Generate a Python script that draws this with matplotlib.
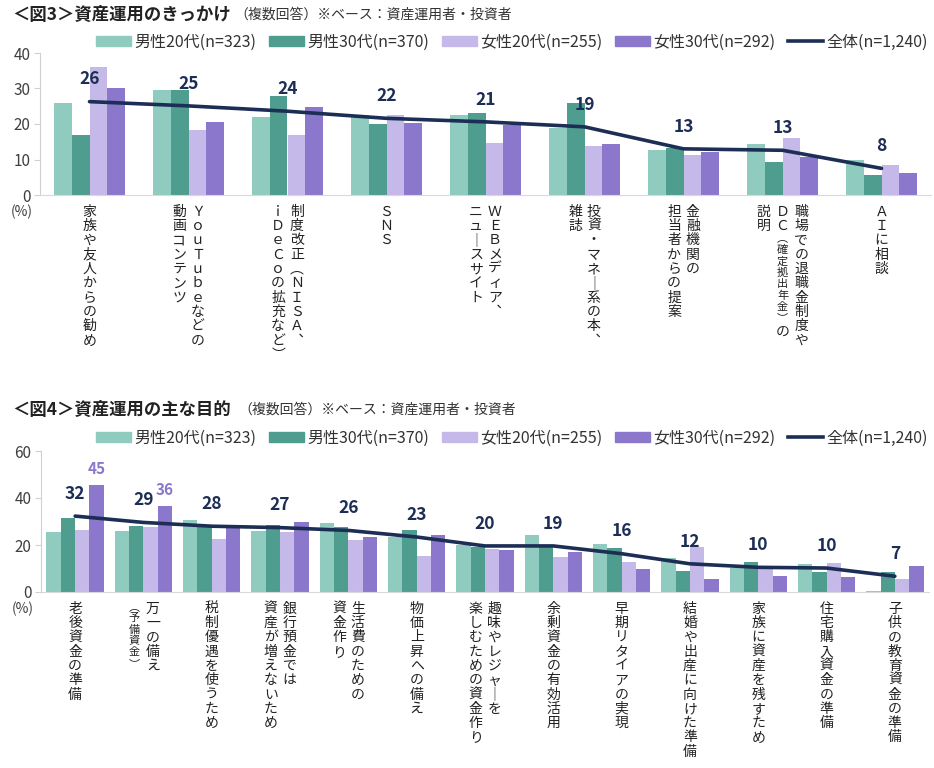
import matplotlib
matplotlib.use("Agg")
import matplotlib.pyplot as plt
from matplotlib.lines import Line2D
from matplotlib.patches import Patch
import numpy as np

plt.rcParams['font.family'] = ['Noto Sans CJK JP', 'DejaVu Sans']

# ---- data: 図3 資産運用のきっかけ ----
cats3 = ["家族や友人からの勧め",
         "ＹｏｕＴｕｂｅなどの|動画コンテンツ",
         "制度改正（ＮＩＳＡ、|ｉＤｅＣｏの拡充など）",
         "ＳＮＳ",
         "ＷＥＢメディア、|ニュースサイト",
         "投資・マネー系の本、|雑誌",
         "金融機関の|担当者からの提案",
         "職場での退職金制度や|ＤＣ{（確定拠出年金）}の|説明",
         "ＡＩに相談"]
m20_3 = [25.9, 29.7, 22.1, 22.6, 22.5, 18.8, 12.8, 14.4, 10.0]
m30_3 = [16.8, 29.5, 27.8, 20.0, 23.0, 26.0, 13.1, 9.4, 5.6]
f20_3 = [36.0, 18.2, 16.8, 22.5, 14.7, 13.9, 11.3, 16.0, 8.5]
f30_3 = [30.0, 20.7, 24.9, 20.2, 19.7, 14.3, 12.2, 10.8, 6.3]
all_3 = [26.3, 25.1, 23.6, 21.6, 20.6, 19.2, 13.0, 12.6, 7.5]
lab_3 = [26, 25, 24, 22, 21, 19, 13, 13, 8]

# ---- data: 図4 資産運用の主な目的 ----
cats4 = ["老後資金の準備",
         "万一の備え|{（予備資金）}",
         "税制優遇を使うため",
         "銀行預金では|資産が増えないため",
         "生活費のための|資金作り",
         "物価上昇への備え",
         "趣味やレジャーを|楽しむための資金作り",
         "余剰資金の有効活用",
         "早期リタイアの実現",
         "結婚や出産に向けた準備",
         "家族に資産を残すため",
         "住宅購入資金の準備",
         "子供の教育資金の準備"]
m20_4 = [25.5, 25.8, 30.5, 25.8, 29.4, 23.4, 20.2, 24.1, 20.6, 14.6, 10.4, 12.1, 0.6]
m30_4 = [31.5, 28.1, 27.9, 28.4, 27.7, 26.2, 19.1, 19.1, 18.9, 8.8, 12.9, 8.4, 8.4]
f20_4 = [26.2, 27.7, 22.7, 25.5, 22.1, 15.5, 18.4, 15.0, 12.8, 19.0, 9.9, 12.2, 5.7]
f30_4 = [45.4, 36.5, 28.0, 29.6, 23.5, 24.3, 17.7, 17.0, 9.8, 5.7, 6.9, 6.5, 11.1]
all_4 = [32.3, 29.6, 28.0, 27.4, 26.2, 23.4, 19.6, 19.6, 16.3, 12.0, 10.5, 10.2, 6.7]
lab_4 = [32, 29, 28, 27, 26, 23, 20, 19, 16, 12, 10, 10, 7]
f30_lab_4 = {0: 45, 1: 36}

series_names = ["男性20代(n=323)", "男性30代(n=370)", "女性20代(n=255)", "女性30代(n=292)"]
line_name = "全体(n=1,240)"
colors = ["#8fcbbf", "#4f9d8f", "#c5b9e9", "#8b77cb"]
navy = "#1c2e55"

VERT = {"（": "︵", "）": "︶", "、": "︑", "ー": "｜"}


def draw_label(ax, xpos, text, pitch_col, size=10):
    cols = text.split("|")
    n = len(cols)
    for ci, col in enumerate(cols):
        # first line is the rightmost column
        dx = ((n - 1) / 2 - ci) * pitch_col
        y = -7
        small = False
        for ch in col:
            if ch == "{":
                small = True
                continue
            if ch == "}":
                small = False
                continue
            fs = size * 0.8 if small else size
            ax.annotate(VERT.get(ch, ch), xy=(xpos, 0), xycoords=("data", "axes fraction"),
                        xytext=(dx, y), textcoords="offset points",
                        ha="center", va="top", fontsize=fs, color="#222222",
                        annotation_clip=False)
            y -= fs * 1.03


def draw_chart(ax, cats, vals, overall, labels, ymax, step, bar_w, pitch_col):
    x = np.arange(len(cats))
    for i, v in enumerate(vals):
        ax.bar(x + (i - 1.5) * bar_w, v, bar_w, color=colors[i], zorder=2)
    ax.plot(x, overall, color=navy, lw=2.6, zorder=3, solid_capstyle="round")
    for xi, yi, lb in zip(x, overall, labels):
        ax.annotate(str(lb), xy=(xi, yi), xytext=(0, 16), textcoords="offset points",
                    ha="center", va="center", fontsize=12.5, fontweight="bold", color=navy, zorder=4)
    ax.set_xlim(-0.5, len(cats) - 0.5)
    ax.set_ylim(0, ymax)
    ax.set_yticks(np.arange(0, ymax + 1, step))
    ax.set_xticks([])
    for s in ["top", "right"]:
        ax.spines[s].set_visible(False)
    ax.spines["left"].set_color("#d0d0d0")
    ax.spines["bottom"].set_color("#d9d9d9")
    ax.tick_params(axis="y", length=4, color="#d0d0d0", labelsize=11, labelcolor="#404040", pad=3)
    for xi, c in zip(x, cats):
        draw_label(ax, xi, c, pitch_col)
    ax.annotate("(%)", xy=(0, 0), xycoords="axes fraction", xytext=(-13, -12),
                textcoords="offset points", ha="center", va="center", fontsize=10, color="#404040",
                annotation_clip=False)
    return x


fig = plt.figure(figsize=(9.34, 7.68), dpi=100)

ax1 = fig.add_axes([40 / 934, 1 - 195 / 768, 891 / 934, 142 / 768])
draw_chart(ax1, cats3, [m20_3, m30_3, f20_3, f30_3], all_3, lab_3, 40, 10, 0.18, 13.5)

ax2 = fig.add_axes([41 / 934, 1 - 592 / 768, 888 / 934, 141 / 768])
x4 = draw_chart(ax2, cats4, [m20_4, m30_4, f20_4, f30_4], all_4, lab_4, 60, 20, 0.21, 13.5)
for i, lb in f30_lab_4.items():
    ax2.annotate(str(lb), xy=(x4[i] + 1.5 * 0.21, f30_4[i]), xytext=(0, 12), textcoords="offset points",
                 ha="center", va="center", fontsize=11, fontweight="bold", color="#8b77cb")

# titles
for ytop, main, x_sub in [(15, "＜図3＞資産運用のきっかけ", 234), (410, "＜図4＞資産運用の主な目的", 238)]:
    fig.text(12 / 934, 1 - ytop / 768, main, fontsize=12.5, fontweight="bold", color="#222222",
             ha="left", va="center")
    fig.text(x_sub / 934, 1 - ytop / 768, "（複数回答）※ベース：資産運用者・投資者", fontsize=10,
             color="#333333", ha="left", va="center")

# legends
handles = [Patch(color=c) for c in colors] + [Line2D([0], [0], color=navy, lw=2.6)]
names = series_names + [line_name]
for ycen in [42, 438]:
    fig.legend(handles, names, loc="center", bbox_to_anchor=(0.548, 1 - ycen / 768), ncol=5,
               frameon=False, fontsize=11.5, handlelength=2.2, handleheight=0.6,
               columnspacing=0.8, handletextpad=0.2, labelcolor="#333333")

fig.savefig("out.png", dpi=100)
